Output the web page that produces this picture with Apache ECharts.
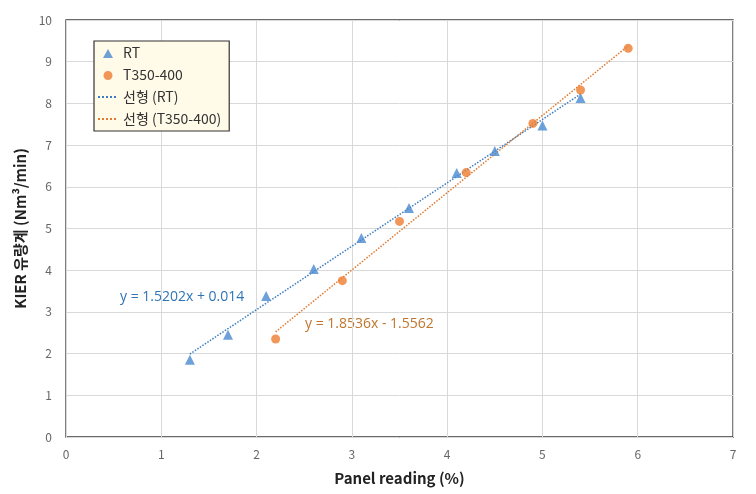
<!DOCTYPE html>
<html>
<head>
<meta charset="utf-8">
<script src="https://cdn.jsdelivr.net/npm/echarts@6/dist/echarts.min.js"></script>
<style>html,body{margin:0;padding:0;background:#fff;}#c{width:756px;height:494px;}</style>
</head>
<body>
<div id="c"></div>
<script>
// Data
const rtX = [1.3, 1.7, 2.1, 2.6, 3.1, 3.6, 4.1, 4.5, 5.0, 5.4];
const rtY = [1.85, 2.45, 3.38, 4.03, 4.77, 5.49, 6.33, 6.86, 7.47, 8.13];
const tX = [2.2, 2.9, 3.5, 4.2, 4.9, 5.4, 5.9];
const tY = [2.35, 3.75, 5.17, 6.34, 7.52, 8.32, 9.32];
// Trendline coefficients (from the chart's equations)
const rtSlope = 1.5202, rtIntercept = 0.014;
const tSlope = 1.8536, tIntercept = -1.5562;
const rtEqText = 'y = 1.5202x + 0.014';
const tEqText = 'y = 1.8536x - 1.5562';
const seriesNames = ['RT', 'T350-400', '선형 (RT)', '선형 (T350-400)'];
const xTicks = [0, 1, 2, 3, 4, 5, 6, 7];
const yTicks = [0, 1, 2, 3, 4, 5, 6, 7, 8, 9, 10];

const font = '"Noto Sans CJK KR", "Noto Sans", sans-serif';
const eqFont = '"Open Sans", "Noto Sans", sans-serif';
const blue = '#4a8ad0';
const orange = '#ed7d31';
const blueLine = '#3b7dc0';
const orangeLine = '#e07a30';

// legend icons: a small symbol centred inside an itemWidth x itemHeight box
const boxCorners = 'M0,0h0.01v0.01h-0.01z M20,12h-0.01v-0.01h0.01z ';
const triIcon = 'path://' + boxCorners + 'M5,11 L10,2 L15,11 Z';
const circIcon = 'path://' + boxCorners + 'M14.5,6.5 A4.5,4.5 0 1 1 5.5,6.5 A4.5,4.5 0 1 1 14.5,6.5 Z';

function trend(xs, m, b) {
  const x0 = Math.min(...xs), x1 = Math.max(...xs);
  return [[x0, m * x0 + b], [x1, m * x1 + b]];
}

const chart = echarts.init(document.getElementById('c'), null, {renderer: 'canvas'});
chart.setOption({
  animation: false,
  backgroundColor: '#fff',
  textStyle: {fontFamily: font},
  grid: {left: 66, right: 23, top: 20, bottom: 57, show: true, borderColor: '#3a3a3a', borderWidth: 1.3},
  xAxis: {
    type: 'value', min: xTicks[0], max: xTicks[xTicks.length - 1], interval: 1,
    name: 'Panel reading (%)', nameLocation: 'middle', nameGap: 34,
    nameTextStyle: {fontFamily: font, fontWeight: 'bold', fontSize: 15, color: '#222'},
    axisLine: {show: false}, axisTick: {show: false},
    axisLabel: {color: '#666', fontSize: 12, margin: 11, fontFamily: font},
    splitLine: {show: true, lineStyle: {color: '#d9d9d9', width: 1}}
  },
  yAxis: {
    type: 'value', min: yTicks[0], max: yTicks[yTicks.length - 1], interval: 1,
    name: 'KIER 유량계 (Nm³/min)', nameLocation: 'middle', nameGap: 38,
    nameTextStyle: {fontFamily: font, fontWeight: 'bold', fontSize: 15, color: '#222'},
    axisLine: {show: false}, axisTick: {show: false},
    axisLabel: {color: '#666', fontSize: 12, margin: 14, fontFamily: font},
    splitLine: {show: true, lineStyle: {color: '#d9d9d9', width: 1}}
  },
  legend: {
    orient: 'vertical', left: 94, top: 41, padding: [5, 8, 5, 3],
    itemGap: 8, itemWidth: 20, itemHeight: 12,
    backgroundColor: '#fffbe8', borderColor: '#333', borderWidth: 1.2,
    textStyle: {fontFamily: font, fontSize: 14, color: '#333'},
    data: [
      {name: seriesNames[0], icon: triIcon},
      {name: seriesNames[1], icon: circIcon},
      {name: seriesNames[2], itemStyle: {opacity: 0}},
      {name: seriesNames[3], itemStyle: {opacity: 0}}
    ]
  },
  series: [
    {name: seriesNames[0], type: 'scatter', symbol: 'triangle', symbolSize: 10,
     itemStyle: {color: blue}, data: rtX.map((x, i) => [x, rtY[i]]), z: 5},
    {name: seriesNames[1], type: 'scatter', symbol: 'circle', symbolSize: 9,
     itemStyle: {color: orange}, data: tX.map((x, i) => [x, tY[i]]), z: 5},
    {name: seriesNames[2], type: 'line', symbol: 'none', showSymbol: false,
     lineStyle: {color: blueLine, width: 1.5, type: 'dotted'}, itemStyle: {color: blueLine},
     data: trend(rtX, rtSlope, rtIntercept), z: 3},
    {name: seriesNames[3], type: 'line', symbol: 'none', showSymbol: false,
     lineStyle: {color: orangeLine, width: 1.5, type: 'dotted'}, itemStyle: {color: orangeLine},
     data: trend(tX, tSlope, tIntercept), z: 3}
  ],
  graphic: [
    {type: 'text', left: 120, top: 290, style: {text: rtEqText, fill: '#2f75b5', font: '14px ' + eqFont}},
    {type: 'text', left: 305, top: 317, style: {text: tEqText, fill: '#c0752c', font: '14px ' + eqFont}}
  ]
});
</script>
</body>
</html>
